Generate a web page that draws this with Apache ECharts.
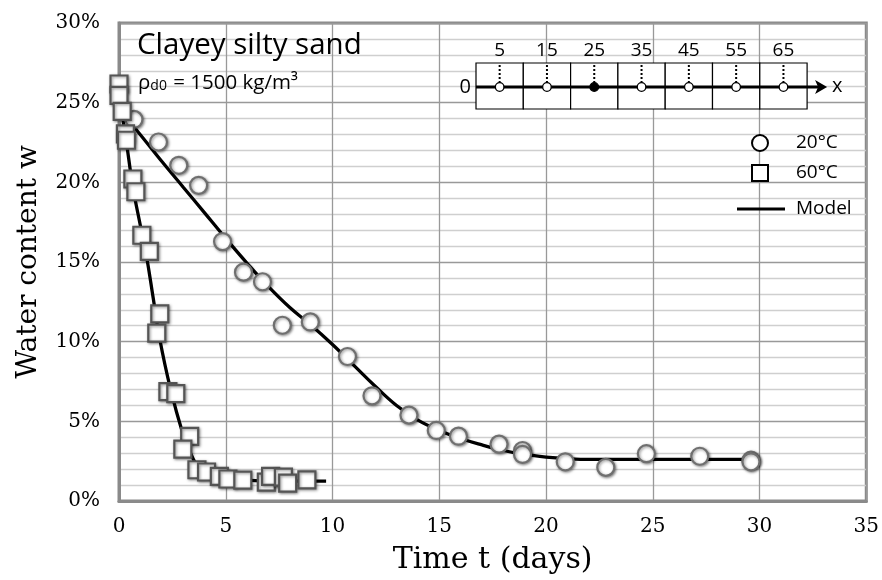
<!DOCTYPE html>
<html><head><meta charset="utf-8">
<script src="https://cdn.jsdelivr.net/npm/echarts@6/dist/echarts.min.js"></script>
<style>html,body{margin:0;padding:0;background:#fff}#c{width:882px;height:580px}</style>
</head><body><div id="c"></div>
<script>
// ---- data (water content in %) ----
var t20 = [0.7,1.85,2.8,3.73,4.85,5.83,6.72,7.65,8.96,10.7,11.85,13.58,14.86,15.9,17.8,18.9,18.9,20.9,22.8,24.7,27.2,29.6,29.6];
var w20 = [23.95,22.53,21.07,19.81,16.28,14.36,13.76,11.03,11.24,9.07,6.6,5.39,4.43,4.07,3.57,3.17,2.92,2.46,2.11,2.97,2.81,2.56,2.46];
var t60 = [0,0,0.15,0.3,0.35,0.65,0.79,1.07,1.42,1.91,1.77,2.29,2.66,3.31,2.99,3.65,4.1,4.7,5.1,5.8,6.9,7.1,7.7,7.9,8.8];
var w60 = [26.17,25.46,24.45,23.04,22.64,20.21,19.41,16.68,15.67,11.74,10.53,6.86,6.74,4.05,3.25,1.96,1.82,1.55,1.38,1.31,1.19,1.55,1.5,1.12,1.33];
var tModel20 = [0,1,2,3,4,5,6,7,8,9,10,11,12,13,14,15,16,17,18,19,20,21,22,25,30];
var wModel20 = [24.6,22.99,21.32,19.71,18.1,16.48,14.92,13.45,12.14,11.03,9.82,8.51,7.2,5.99,5.08,4.43,3.92,3.52,3.17,2.92,2.76,2.66,2.61,2.61,2.61];
var tModel60 = [0,0.3,0.65,1.0,1.3,1.6,1.9,2.4,3.0,3.3,3.6,4.0,4.5,5,6,7,8,9,9.7];
var wModel60 = [25.36,22.94,19.71,17.29,15.27,12.75,10.23,7.1,4.18,3.17,2.36,1.86,1.55,1.4,1.3,1.25,1.25,1.25,1.25];
var xTicks = {min:0, max:35, interval:5};
var yTicks = {min:0, max:30, interval:5};
var legendNames = ['20°C','60°C','Model'];
var insetLabels = ['5','15','25','35','45','55','65'];

function pairs(a,b){return a.map(function(v,i){return [v,b[i]];});}

var chart = echarts.init(document.getElementById('c'));
var markerStyle = {color:'#fff', opacity:1, borderColor:'#6f6f6f', borderWidth:2.2, shadowBlur:3, shadowColor:'rgba(0,0,0,0.45)', shadowOffsetX:1, shadowOffsetY:1};
var sqStyle = {color:'#fff', opacity:1, borderColor:'#555', borderWidth:2.2, shadowBlur:3, shadowColor:'rgba(0,0,0,0.45)', shadowOffsetX:1, shadowOffsetY:1};
var sans = '"Open Sans", sans-serif';
var serif = '"DejaVu Serif", serif';

// inset diagram graphics
var g = [];
var bx0 = 476, by0 = 63, cw = 47.3, bh = 46, ay = 87;
for (var i=0;i<7;i++){
  g.push({type:'rect', shape:{x:bx0+i*cw, y:by0, width:cw, height:bh}, style:{fill:'#fff', stroke:'#000', lineWidth:1.2}, z:10});
}
g.push({type:'line', shape:{x1:bx0, y1:ay, x2:bx0+7*cw+14, y2:ay}, style:{stroke:'#000', lineWidth:3}, z:11});
g.push({type:'polygon', shape:{points:[[bx0+7*cw+8,ay-7],[bx0+7*cw+20,ay],[bx0+7*cw+8,ay+7],[bx0+7*cw+11,ay]]}, style:{fill:'#000'}, z:11});
g.push({type:'text', style:{text:'x', x:bx0+7*cw+25, y:ay-1, fill:'#000', font:'20px ' + sans, verticalAlign:'middle'}, z:11});
g.push({type:'text', style:{text:'0', x:bx0-5, y:ay, fill:'#000', font:'20px ' + sans, align:'right', verticalAlign:'middle'}, z:11});
for (var j=0;j<7;j++){
  var cx = bx0 + (j+0.5)*cw;
  g.push({type:'line', shape:{x1:cx, y1:by0+2, x2:cx, y2:ay-4}, style:{stroke:'#000', lineWidth:2, lineDash:[2,2]}, z:11});
  g.push({type:'circle', shape:{cx:cx, cy:ay, r:4.3}, style:{fill: j===2?'#000':'#fff', stroke:'#000', lineWidth:1.3}, z:12});
  g.push({type:'text', style:{text:insetLabels[j], x:cx, y:by0-3, fill:'#000', font:'19px ' + sans, align:'center', verticalAlign:'bottom'}, z:11});
}
// legend
g.push({type:'circle', shape:{cx:760, cy:143, r:8}, style:{fill:'#fff', stroke:'#000', lineWidth:2}, z:12});
g.push({type:'rect', shape:{x:752, y:165, width:16, height:16}, style:{fill:'#fff', stroke:'#000', lineWidth:2}, z:12});
g.push({type:'line', shape:{x1:737, y1:209, x2:785, y2:209}, style:{stroke:'#000', lineWidth:3}, z:12});
[143,173,209].forEach(function(yy,k){
  g.push({type:'text', style:{text:legendNames[k], x:796, y:yy, fill:'#000', font:'19px ' + sans, verticalAlign:'middle'}, z:12});
});
// title texts
g.push({type:'text', style:{text:'Clayey silty sand', x:137, y:46, fill:'#000', font:'29.5px ' + sans, verticalAlign:'middle'}, z:12});
g.push({type:'text', style:{
  text:'{a|ρ}{s|d0}{a| = 1500 kg/m³}', x:138, y:83, verticalAlign:'middle',
  rich:{a:{fontSize:20.5, fontFamily:sans, fill:'#000'}, s:{fontSize:14, fontFamily:sans, fill:'#000', verticalAlign:'bottom', padding:[7,1,0,0]}}
}, z:12});

chart.setOption({
  animation:false,
  grid:{left:119, right:14, top:23, bottom:76, show:true, borderColor:'#8a8a8a', borderWidth:3},
  xAxis:{type:'value', min:xTicks.min, max:xTicks.max, interval:xTicks.interval,
    name:'Time t (days)', nameLocation:'middle', nameGap:44,
    nameTextStyle:{fontFamily:serif, fontSize:30, color:'#000'},
    axisLine:{show:true, onZero:false, lineStyle:{color:'#8a8a8a', width:3}},
    axisTick:{show:false},
    axisLabel:{fontFamily:serif, fontSize:20, color:'#000', margin:16},
    splitLine:{show:true, lineStyle:{color:'#999', width:1.3}}},
  yAxis:{type:'value', min:yTicks.min, max:yTicks.max, interval:yTicks.interval,
    name:'Water content w', nameLocation:'middle', nameGap:76, nameRotate:90,
    nameTextStyle:{fontFamily:serif, fontSize:28, color:'#000'},
    axisLine:{show:true, onZero:false, lineStyle:{color:'#8a8a8a', width:3}},
    axisTick:{show:false},
    axisLabel:{fontFamily:serif, fontSize:20, color:'#000', margin:19, formatter:'{value}%'},
    splitLine:{show:true, lineStyle:{color:'#999', width:1.3}},
    minorTick:{show:false, splitNumber:5},
    minorSplitLine:{show:true, lineStyle:{color:'#cfcfcf', width:1.3}}},
  series:[
    {type:'line', data:pairs(tModel20,wModel20), smooth:0.4, showSymbol:false, lineStyle:{color:'#000', width:3.3}, z:2},
    {type:'line', data:pairs(tModel60,wModel60), smooth:0.4, showSymbol:false, lineStyle:{color:'#000', width:3.3}, z:2},
    {type:'scatter', name:'20°C', data:pairs(t20,w20), symbol:'circle', symbolSize:17, itemStyle:markerStyle, z:3},
    {type:'scatter', name:'60°C', data:pairs(t60,w60), symbol:'rect', symbolSize:17, itemStyle:sqStyle, z:3}
  ],
  graphic:g
});
</script></body></html>
